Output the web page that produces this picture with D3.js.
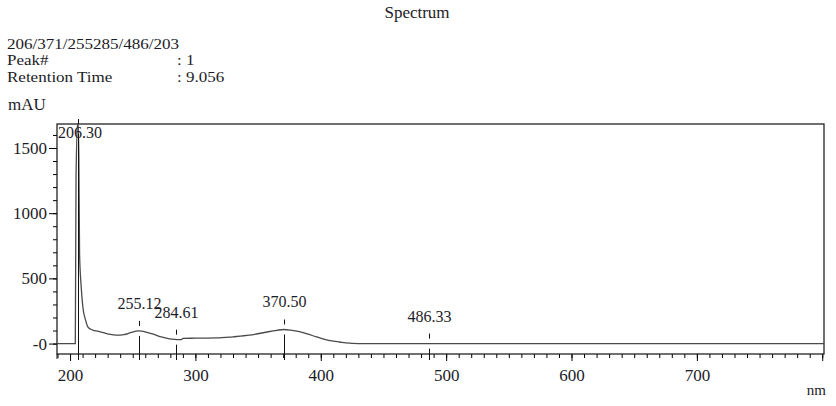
<!DOCTYPE html>
<html>
<head>
<meta charset="utf-8">
<script src="https://cdn.jsdelivr.net/npm/d3@7"></script>
<style>
	body { margin: 0; background: #fff; }
	text { font-family: 'Liberation Serif', 'Times New Roman', serif; fill: #1c1c28; }
</style>
</head>
<body>
<div id="spectrum"></div>
<script>
// spectrum (nm, mAU)
var wavelengths = [189, 203.5, 204.2, 204.8, 206.3, 207.0, 207.6, 208.9, 210.2, 212.4, 214.2, 216.5, 219.5, 223.5, 230, 237, 243, 249, 254, 257, 262, 267, 271, 276, 281, 285, 289, 290, 300, 317, 330, 343, 355, 365, 370.5, 376, 383, 390, 396, 403, 410, 415, 420, 425, 430, 802];
var absorbance = [0, 0, 0, 1300, 1720, 1450, 690, 435, 282, 180, 128, 110, 100, 92, 75, 64, 68, 85, 97, 96, 84, 70, 56, 44, 34, 30, 31, 40, 41, 43, 52, 64, 85, 102, 108, 103, 91, 72, 53, 33, 19, 12, 5, 1, 0, 0];

// peak markers
var peakNm = [206.30, 255.12, 284.61, 370.50, 486.33];
var peakMau = [1720, 97, 30, 108, 0];
var peakLabels = ['206.30', '255.12', '284.61', '370.50', '486.33'];

// axes
var xMajor = [200, 300, 400, 500, 600, 700, 800];
var xLabels = ['200', '300', '400', '500', '600', '700', ''];
var yMajor = [0, 500, 1000, 1500];
var yLabels = ['-0', '500', '1000', '1500'];

var headerLeft = ['206/371/255285/486/203', 'Peak#', 'Retention Time'];
var headerRight = ['', ': 1', ': 9.056'];

var W = 836, H = 406;
var frame = { left: 57, right: 824, top: 124, bottom: 354 };

var svg = d3.select('#spectrum').append('svg').attr('width', W).attr('height', H);

var x = d3.scaleLinear().domain([189.6, 801.4]).range([frame.left, frame.right]);
var y = d3.scaleLinear().domain([-80, 1684]).range([frame.bottom, frame.top]);

// title + header block
svg.append('text').attr('x', 417).attr('y', 18).attr('text-anchor', 'middle').attr('font-size', '17px').text('Spectrum');

// header lines sit very close together, so draw them a bit smaller and stretch to the original width
const headerLine = (sel) => {
	sel.attr('font-size', '17px');
	sel.each(function () {
		var len = this.getComputedTextLength();
		d3.select(this).attr('font-size', '15px');
		if (len > 0) d3.select(this).attr('textLength', len).attr('lengthAdjust', 'spacingAndGlyphs');
	});
};

svg.selectAll('.hdr')
	.data(headerLeft)
	.enter()
	.append('text')
	.attr('x', 7)
	.attr('y', (d, i) => 48.5 + i * 16.6)
	.text((d) => d)
	.call(headerLine);

svg.selectAll('.hdrVal')
	.data(headerRight)
	.enter()
	.append('text')
	.attr('x', 177)
	.attr('y', (d, i) => 48.5 + i * 16.6)
	.text((d) => d)
	.call(headerLine);

svg.append('text').attr('x', 8).attr('y', 110).attr('font-size', '17px').text('mAU');
svg.append('text').attr('x', 826).attr('y', 395).attr('text-anchor', 'end').attr('font-size', '15px').text('nm');

// clip for the curve
svg.append('clipPath')
	.attr('id', 'plotClip')
	.append('rect')
	.attr('x', frame.left)
	.attr('y', frame.top)
	.attr('width', frame.right - frame.left)
	.attr('height', frame.bottom - frame.top);

// x axis (ticks down, minor every 10 nm)
var xAxis = svg.append('g').attr('transform', 'translate(0,' + frame.bottom + ')');
xAxis.call(d3.axisBottom(x).tickValues(d3.range(190, 801, 10)).tickSize(4).tickFormat(''));
xAxis.select('.domain').remove();
var xMaj = svg.append('g').attr('transform', 'translate(0,' + frame.bottom + ')');
xMaj.call(d3.axisBottom(x).tickValues(xMajor).tickSize(7).tickPadding(8).tickFormat((d, i) => xLabels[i]));
xMaj.select('.domain').remove();
xMaj.selectAll('text').attr('font-size', '17px').attr('font-family', "'Liberation Serif', serif").attr('fill', '#1c1c28');

// y axis (ticks left, minor every 100)
var yAxis = svg.append('g').attr('transform', 'translate(' + frame.left + ',0)');
yAxis.call(d3.axisLeft(y).tickValues(d3.range(0, 1601, 100)).tickSize(4).tickFormat(''));
yAxis.select('.domain').remove();
var yMaj = svg.append('g').attr('transform', 'translate(' + frame.left + ',0)');
yMaj.call(d3.axisLeft(y).tickValues(yMajor).tickSize(8).tickPadding(2).tickFormat((d, i) => yLabels[i]));
yMaj.select('.domain').remove();
yMaj.selectAll('text').attr('font-size', '17px').attr('font-family', "'Liberation Serif', serif").attr('fill', '#1c1c28');

// frame
svg.append('rect')
	.attr('x', frame.left)
	.attr('y', frame.top)
	.attr('width', frame.right - frame.left)
	.attr('height', frame.bottom - frame.top)
	.attr('fill', 'none')
	.attr('stroke', '#111')
	.attr('stroke-width', 1.2);
svg.append('line')
	.attr('x1', frame.left).attr('x2', frame.left)
	.attr('y1', frame.bottom).attr('y2', frame.bottom + 5)
	.attr('stroke', '#111');

// spectrum curve
var pts = wavelengths.map((w, i) => [w, absorbance[i]]);
svg.append('path')
	.datum(pts)
	.attr('clip-path', 'url(#plotClip)')
	.attr('fill', 'none')
	.attr('stroke', '#4a4a4a')
	.attr('stroke-width', 1.3)
	.attr('d', d3.line().x((d) => x(d[0])).y((d) => y(d[1])).curve(d3.curveMonotoneX));

// peak markers: short dash above curve, then line from below curve through the axis
peakNm.forEach((nm, i) => {
	var px = Math.round(x(nm)) + 0.5;
	var cy = Math.max(y(peakMau[i]), frame.top + 5);
	var g = svg.append('g').attr('stroke', '#111').attr('stroke-width', 1);
	g.append('line').attr('x1', px).attr('x2', px).attr('y1', cy - 10).attr('y2', cy - 5);
	g.append('line').attr('x1', px).attr('x2', px).attr('y1', cy + 5).attr('y2', frame.bottom + 6);

	var lbl = svg.append('text')
		.attr('font-size', '16px')
		.attr('text-anchor', 'middle')
		.text(peakLabels[i]);
	var w = lbl.node().getComputedTextLength();
	var cx = Math.max(px, frame.left + 1 + w / 2);
	lbl.attr('x', cx).attr('y', Math.max(cy - 22, frame.top + 14));
});
</script>
</body>
</html>
